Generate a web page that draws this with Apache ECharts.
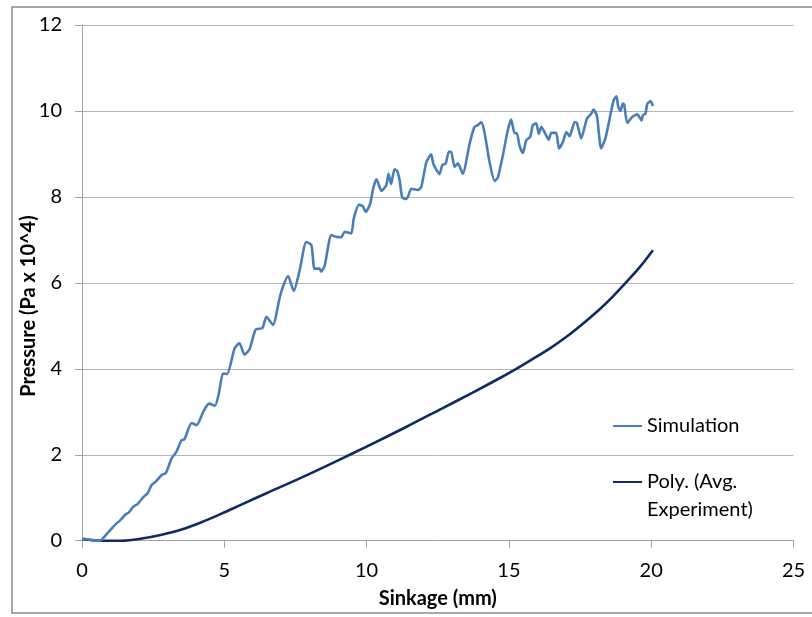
<!DOCTYPE html>
<html>
<head>
<meta charset="utf-8">
<title>Pressure vs Sinkage</title>
<script src="https://cdn.jsdelivr.net/npm/echarts@6/dist/echarts.min.js"></script>
<style>
  html, body { margin: 0; padding: 0; background: #fff; }
  #chart { width: 812px; height: 617px; }
</style>
</head>
<body>
<div id="chart"></div>
<script>
// Simulated pressure trace (sinkage in mm, pressure in Pa x 10^4)
const simSinkage = [
  0, 0.3, 0.63, 0.9, 1.16, 1.35, 1.51, 1.65, 1.8, 1.95, 2.16, 2.3, 2.45, 2.6, 2.8, 2.95,
  3.15, 3.3, 3.5, 3.6, 3.85, 4.03, 4.26, 4.46, 4.67, 4.81, 4.95, 5.1, 5.36, 5.53, 5.71, 5.89,
  6.1, 6.34, 6.48, 6.71, 6.94, 7.06, 7.24, 7.44, 7.65, 7.88, 8.06, 8.17, 8.35, 8.41, 8.53, 8.76,
  8.94, 9.11, 9.23, 9.46, 9.55, 9.73, 9.87, 9.97, 10.12, 10.24, 10.35, 10.52, 10.69, 10.77, 10.86, 10.98,
  11.07, 11.16, 11.25, 11.37, 11.45, 11.57, 11.8, 11.92, 12.1, 12.27, 12.35, 12.56, 12.66, 12.78, 12.89, 12.97,
  13.09, 13.21, 13.38, 13.62, 13.79, 13.91, 14.03, 14.14, 14.32, 14.5, 14.61, 14.79, 14.96, 15.08, 15.2, 15.28,
  15.37, 15.49, 15.61, 15.75, 15.84, 15.96, 16.05, 16.14, 16.25, 16.4, 16.49, 16.66, 16.76, 16.9, 17.02, 17.13,
  17.31, 17.39, 17.54, 17.74, 17.9, 17.97, 18.09, 18.24, 18.39, 18.54, 18.68, 18.78, 18.84, 18.92, 19.0, 19.05,
  19.16, 19.33, 19.51, 19.66, 19.71, 19.8, 19.86, 19.98, 20.06
];
const simPressure = [
  0.05, 0.02, 0.0, 0.18, 0.37, 0.48, 0.6, 0.66, 0.79, 0.85, 1.02, 1.1, 1.3, 1.38, 1.53, 1.58,
  1.92, 2.05, 2.34, 2.36, 2.74, 2.69, 3.0, 3.19, 3.14, 3.43, 3.89, 3.88, 4.47, 4.6, 4.33, 4.46,
  4.91, 4.95, 5.21, 5.02, 5.64, 5.91, 6.16, 5.81, 6.3, 6.95, 6.88, 6.33, 6.33, 6.26, 6.41, 7.11,
  7.07, 7.06, 7.19, 7.15, 7.5, 7.82, 7.78, 7.65, 7.83, 8.22, 8.41, 8.14, 8.27, 8.54, 8.3, 8.64,
  8.61, 8.39, 7.99, 7.95, 8.0, 8.19, 8.16, 8.23, 8.81, 8.99, 8.76, 8.53, 8.74, 8.78, 9.05, 9.05,
  8.7, 8.78, 8.54, 9.24, 9.63, 9.67, 9.74, 9.51, 8.81, 8.37, 8.45, 8.97, 9.55, 9.8, 9.48, 9.48,
  9.2, 9.02, 9.32, 9.4, 9.67, 9.71, 9.47, 9.63, 9.51, 9.33, 9.49, 9.49, 9.13, 9.28, 9.51, 9.41,
  9.74, 9.72, 9.36, 9.82, 9.94, 10.03, 9.9, 9.13, 9.36, 9.82, 10.25, 10.34, 10.1, 10.0, 10.17, 10.15,
  9.72, 9.86, 9.92, 9.78, 9.9, 9.94, 10.16, 10.23, 10.11
];

// Polynomial trendline of the averaged experimental runs
const polySinkage = [
  0, 0.7, 1.4, 2.1, 2.8, 3.5, 4.2, 4.9, 5.6, 6.5, 7.65, 9, 10, 11.37, 12.54, 13.71,
  14.67, 15.26, 15.84, 16.43, 17.01, 17.6, 18.18, 18.65, 19.06, 19.59, 20.06
];
const polyPressure = [
  0.04, 0.0, 0.0, 0.05, 0.14, 0.26, 0.43, 0.63, 0.84, 1.11, 1.45, 1.87, 2.19, 2.64, 3.04, 3.44,
  3.78, 4.0, 4.23, 4.47, 4.74, 5.05, 5.38, 5.68, 5.97, 6.36, 6.76
];

const seriesNames = ['Simulation', 'Poly. (Avg. Experiment)'];
const xTitle = 'Sinkage (mm)';
const yTitle = 'Pressure (Pa x 10^4)';

const zip = (xs, ys) => xs.map((x, i) => [x, ys[i]]);

const FONT = 'Lato, "Open Sans", sans-serif';
const GRID_GRAY = '#b4b4b4';
const AXIS_GRAY = '#a3a3a3';

const chart = echarts.init(document.getElementById('chart'), null, { renderer: 'canvas' });

chart.setOption({
  animation: false,
  backgroundColor: '#ffffff',
  textStyle: { fontFamily: FONT },
  grid: {
    left: 82, top: 25, width: 711.5, height: 515.7,
    containLabel: false, outerBoundsMode: 'none'
  },
  graphic: [
    {
      // chart-area frame
      type: 'rect',
      silent: true,
      z: -10,
      shape: { x: 12, y: 7, width: 830, height: 606 },
      style: { fill: 'none', stroke: '#8a8a8a', lineWidth: 1.5 }
    },
    {
      // vertical axis title, centred on the chart area
      type: 'text',
      silent: true,
      x: 29,
      y: 306,
      rotation: Math.PI / 2,
      style: {
        text: yTitle,
        align: 'center',
        verticalAlign: 'middle',
        fill: '#000',
        font: 'bold 20px ' + FONT
      }
    }
  ],
  legend: {
    orient: 'vertical',
    left: 608,
    top: 407,
    itemWidth: 29,
    itemHeight: 2,
    itemGap: 0,
    icon: 'rect',
    data: seriesNames,
    formatter: name => name === seriesNames[1] ? '\nPoly. (Avg.\nExperiment)' : name,
    textStyle: { fontFamily: FONT, fontSize: 20, color: '#000', lineHeight: 28 }
  },
  xAxis: {
    type: 'value',
    min: 0, max: 25, interval: 5,
    name: xTitle,
    nameLocation: 'middle',
    nameGap: 48,
    nameTextStyle: { fontFamily: FONT, fontSize: 20, fontWeight: 'bold', color: '#000' },
    axisLine: { show: true, lineStyle: { color: AXIS_GRAY, width: 1 } },
    axisTick: { show: true, length: 7, lineStyle: { color: AXIS_GRAY } },
    axisLabel: { fontFamily: FONT, fontSize: 20, color: '#000', margin: 20 },
    splitLine: { show: false }
  },
  yAxis: {
    type: 'value',
    min: 0, max: 12, interval: 2,
    axisLine: { show: true, lineStyle: { color: AXIS_GRAY, width: 1 } },
    axisTick: { show: true, length: 7, lineStyle: { color: AXIS_GRAY } },
    axisLabel: { fontFamily: FONT, fontSize: 20, color: '#000', margin: 20 },
    splitLine: { show: true, lineStyle: { color: GRID_GRAY, width: 1 } }
  },
  series: [
    {
      name: seriesNames[0],
      type: 'line',
      data: zip(simSinkage, simPressure),
      showSymbol: false,
      smooth: 0.2,
      lineStyle: { color: '#4a7ebb', width: 2.6, join: 'round' },
      itemStyle: { color: '#4a7ebb' },
      z: 3
    },
    {
      name: seriesNames[1],
      type: 'line',
      data: zip(polySinkage, polyPressure),
      showSymbol: false,
      smooth: 0.35,
      lineStyle: { color: '#0f2a66', width: 2.6 },
      itemStyle: { color: '#0f2a66' },
      z: 2
    }
  ]
});
</script>
</body>
</html>
